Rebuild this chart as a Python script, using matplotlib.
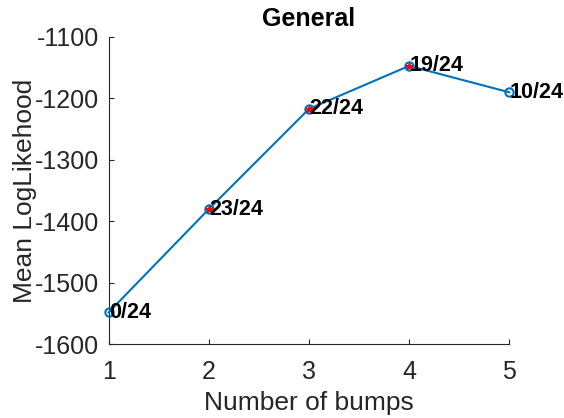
import matplotlib
matplotlib.use("Agg")
import matplotlib.pyplot as plt

# mean log-likelihood per number of bumps
n_bumps = [1, 2, 3, 4, 5]
mean_ll = [-1548, -1380, -1217, -1147, -1190]
counts = ["0/24", "23/24", "22/24", "19/24", "10/24"]
# points flagged with a red star
flagged = [2, 3, 4]

plt.rcParams['font.family'] = ['Liberation Sans', 'DejaVu Sans']
plt.rcParams['axes.unicode_minus'] = False

fig = plt.figure(figsize=(5.64, 4.18), dpi=100)
ax = fig.add_axes([0.1927, 0.1763, 0.7103, 0.7352])

blue = '#0072BD'
ax.plot(n_bumps, mean_ll, color=blue, lw=1.5, marker='o', ms=6,
        mfc='none', mec=blue, mew=1.5, clip_on=False, zorder=3)
fx = [n_bumps[i - 1] for i in flagged]
fy = [mean_ll[i - 1] for i in flagged]
ax.plot(fx, fy, ls='none', marker='*', ms=6, color='red', mew=0.8,
        clip_on=False, zorder=4)

for x, y, s in zip(n_bumps, mean_ll, counts):
    ax.text(x, y, s, ha='left', va='center', fontsize=15.5,
            fontweight='bold', color='black', zorder=5)

ax.set_xlim(1, 5)
ax.set_ylim(-1600, -1100)
ax.set_xticks([1, 2, 3, 4, 5])
ax.set_yticks([-1600, -1500, -1400, -1300, -1200, -1100])

for side in ['top', 'right']:
    ax.spines[side].set_visible(False)
for side in ['left', 'bottom']:
    ax.spines[side].set_color('#262626')
    ax.spines[side].set_linewidth(0.8)

ax.tick_params(axis='both', direction='in', length=3.5, width=0.8,
               colors='#262626', labelsize=18)
ax.tick_params(axis='y', pad=7)
ax.tick_params(axis='x', pad=11)

ax.set_xlabel('Number of bumps', fontsize=19, color='#262626', labelpad=5)
ax.set_ylabel('Mean LogLikehood', fontsize=19, color='#262626', labelpad=-2)
ax.set_title('General', fontsize=18, fontweight='bold', pad=8)

fig.savefig('out.png', dpi=100)
